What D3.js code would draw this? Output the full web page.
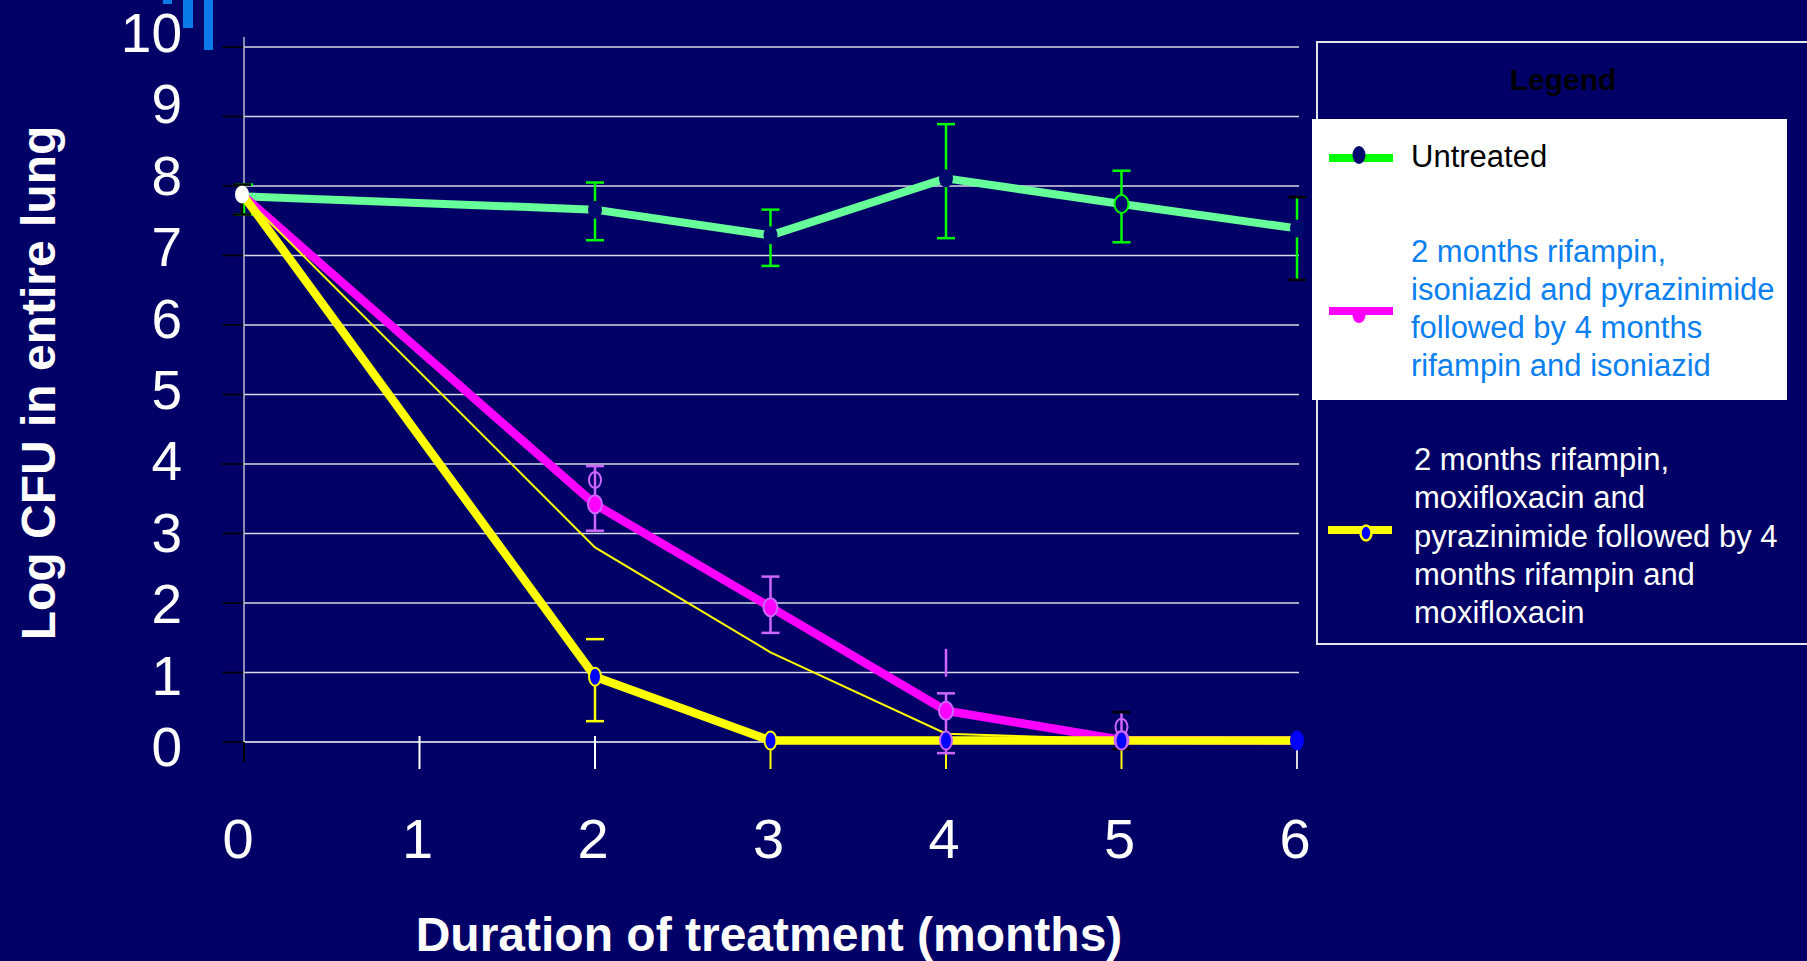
<!DOCTYPE html>
<html><head><meta charset="utf-8">
<script src="https://cdn.jsdelivr.net/npm/d3@7"></script>
<style>html,body{margin:0;padding:0;background:#000066;overflow:hidden}</style>
</head><body><svg id="c" width="1807" height="961"></svg>
<script>
// ---- data ----
const months = [0, 2, 3, 4, 5, 6];
const xTicks = [0, 1, 2, 3, 4, 5, 6];
const yTicks = [0, 1, 2, 3, 4, 5, 6, 7, 8, 9, 10];
const untreated   = [7.85, 7.66, 7.29, 8.11, 7.74, 7.39];
const untreatedLo = [7.59, 7.22, 6.85, 7.25, 7.19, 6.65];
const untreatedHi = [8.02, 8.05, 7.66, 8.89, 8.22, 7.84];
const rhz   = [7.85, 3.42, 1.94, 0.45, 0.03, 0.02];
const rhzLo = [null, 3.04, 1.57, -0.16, -0.10, null];
const rhzHi = [null, 3.97, 2.38, 0.70, 0.43, null];
const rhzOpen = [null, 3.77, null, null, 0.22, null];
const rhzStrayLo = [null, null, null, 0.94, null, null];
const rhzStrayHi = [null, null, null, 1.34, null, null];
const rmz   = [7.85, 0.94, 0.02, 0.02, 0.02, 0.02];
const rmzLo = [null, 0.30, null, null, null, null];
const rmzHi = [null, 1.48, null, null, null, null];
const thinLine = [7.85, 2.80, 1.29, 0.12, 0.04, 0.02];
const yTitle = "Log CFU in entire lung";
const xTitle = "Duration of treatment (months)";
const legendTitle = "Legend";
const legendUntreated = ["Untreated"];
const legendRHZ = ["2 months rifampin,", "isoniazid and pyrazinimide", "followed by 4 months", "rifampin and isoniazid"];
const legendRMZ = ["2 months rifampin,", "moxifloxacin and", "pyrazinimide followed by 4", "months rifampin and", "moxifloxacin"];

// ---- styles ----
const BG = "#000066";
const FONT = "'Liberation Sans', Arial, sans-serif";
const svg = d3.select("#c");
svg.append("rect").attr("width", 1807).attr("height", 961).attr("fill", BG);

const x = d3.scaleLinear().domain([0, 6]).range([244, 1297]);
const y = d3.scaleLinear().domain([0, 10]).range([742, 47]);
const yLab = d3.scaleLinear().domain([0, 10]).range([766, 52]);

// decorative template bars
[[163, 0, 9, 4], [183, 0, 10, 28], [204, 0, 9, 50]].forEach(d =>
  svg.append("rect").attr("x", d[0]).attr("y", d[1]).attr("width", d[2]).attr("height", d[3]).attr("fill", "#0a7ae8"));

// gridlines
svg.append("g").selectAll("line").data(yTicks.filter(v => v > 0)).join("line")
  .attr("x1", x(0)).attr("x2", x(6) + 2).attr("y1", d => y(d)).attr("y2", d => y(d))
  .attr("stroke", "#d8d8e6").attr("stroke-width", 1.5);
// y axis ticks (black)
svg.append("g").selectAll("line").data(yTicks).join("line")
  .attr("x1", 222).attr("x2", x(0)).attr("y1", d => y(d)).attr("y2", d => y(d))
  .attr("stroke", "#000").attr("stroke-width", 1.5);
// y axis line
svg.append("line").attr("x1", x(0)).attr("x2", x(0)).attr("y1", 37).attr("y2", y(0))
  .attr("stroke", "#b8b8cc").attr("stroke-width", 1.5);
// x axis line
svg.append("line").attr("x1", x(0)).attr("x2", x(6)).attr("y1", y(0)).attr("y2", y(0))
  .attr("stroke", "#ffffff").attr("stroke-width", 1.5);
const tickColor = ["#000", "#fff", "#fff", "#ffff00", "#ffff00", "#ffff00", "#dcdcdc"];
svg.append("g").selectAll("line").data(xTicks).join("line")
  .attr("x1", d => x(d)).attr("x2", d => x(d))
  .attr("y1", (d, i) => i === 0 ? y(0) : y(0) - 6).attr("y2", (d, i) => i === 0 ? 762 : 769)
  .attr("stroke", (d, i) => tickColor[i]).attr("stroke-width", 2);

// tick labels
svg.append("g").selectAll("text").data(yTicks).join("text")
  .attr("x", 182).attr("y", d => yLab(d)).attr("text-anchor", "end")
  .attr("font-family", FONT).attr("font-size", 55).attr("fill", "#fff").text(d => d);
svg.append("g").selectAll("text").data(xTicks).join("text")
  .attr("x", (d, i) => i === 0 ? x(d) - 6 : x(d) - 2).attr("y", 858).attr("text-anchor", "middle")
  .attr("font-family", FONT).attr("font-size", 56).attr("fill", "#fff").text(d => d);

// axis titles
svg.append("text").attr("x", 769).attr("y", 951).attr("text-anchor", "middle")
  .attr("font-family", FONT).attr("font-weight", "bold").attr("font-size", 48).attr("fill", "#fff").text(xTitle);
svg.append("text").attr("transform", "translate(55,383) rotate(-90)").attr("text-anchor", "middle")
  .attr("font-family", FONT).attr("font-weight", "bold").attr("font-size", 48).attr("fill", "#fff").text(yTitle);

// helpers
const line = d3.line().defined(d => d[1] != null).x(d => x(d[0])).y(d => y(d[1]));
function pts(vals) { return months.map((m, i) => [m, vals[i]]); }
function errBars(vals, lo, hi, color, capColorFn, opts = {}) {
  const g = svg.append("g");
  months.forEach((m, i) => {
    if (lo[i] == null && hi[i] == null) return;
    const a = lo[i] != null ? lo[i] : vals[i];
    const b = (hi[i] != null && !opts.floatHi) ? hi[i] : vals[i];
    g.append("line").attr("x1", x(m)).attr("x2", x(m)).attr("y1", y(a)).attr("y2", y(b))
      .attr("stroke", color).attr("stroke-width", 2.5);
    if (opts.noCaps) return;
    [lo[i], hi[i]].forEach(v => {
      if (v == null) return;
      g.append("line").attr("x1", x(m) - 9).attr("x2", x(m) + 9).attr("y1", y(v)).attr("y2", y(v))
        .attr("stroke", capColorFn ? capColorFn(i) : color).attr("stroke-width", 2.5);
    });
  });
}

// error bars
errBars(untreated, untreatedLo, untreatedHi, "#00ff00", i => i === 5 ? "#000" : "#00ff00");
errBars(rhz, rhzLo, rhzHi, "#cc66ff", i => i === 4 ? "#000" : "#cc66ff");
errBars(rhzStrayLo, rhzStrayLo, rhzStrayHi, "#cc66ff", null, { noCaps: true });
errBars(rmz, rmzLo, rmzHi, "#ffff00", null, { floatHi: true });

// lines
svg.append("path").datum(pts(untreated)).attr("d", line).attr("fill", "none")
  .attr("stroke", "#66ff99").attr("stroke-width", 8).attr("stroke-linejoin", "round");
svg.append("path").datum(pts(rhz)).attr("d", line).attr("fill", "none")
  .attr("stroke", "#ff00ff").attr("stroke-width", 8.5).attr("stroke-linejoin", "round");
svg.append("path").datum(pts(thinLine)).attr("d", line).attr("fill", "none")
  .attr("stroke", "#ffff00").attr("stroke-width", 2);
svg.append("path").datum(pts(rmz)).attr("d", line).attr("fill", "none")
  .attr("stroke", "#ffff00").attr("stroke-width", 8.5).attr("stroke-linejoin", "round");

// markers
svg.append("g").selectAll("ellipse").data(pts(untreated).slice(1)).join("ellipse")
  .attr("cx", d => x(d[0])).attr("cy", d => y(d[1])).attr("rx", 7).attr("ry", 9)
  .attr("fill", "#000a6e").attr("stroke", (d, i) => i === 3 ? "#00ff00" : "none").attr("stroke-width", 2);
svg.append("g").selectAll("ellipse").data(pts(rhz).slice(1, 5)).join("ellipse")
  .attr("cx", d => x(d[0])).attr("cy", d => y(d[1])).attr("rx", 7).attr("ry", 9)
  .attr("fill", "#ff00ff").attr("stroke", "#cc66ff").attr("stroke-width", 2);
svg.append("g").selectAll("ellipse").data(pts(rhzOpen).filter(d => d[1] != null)).join("ellipse")
  .attr("cx", d => x(d[0])).attr("cy", d => y(d[1])).attr("rx", 6).attr("ry", 8)
  .attr("fill", "none").attr("stroke", "#cc66ff").attr("stroke-width", 2);
svg.append("g").selectAll("ellipse").data(pts(rmz).slice(1)).join("ellipse")
  .attr("cx", d => x(d[0])).attr("cy", d => y(d[1])).attr("rx", 6).attr("ry", 9)
  .attr("fill", "#0000ff").attr("stroke", (d, i) => (i === 2 || i === 3) ? "#cc66ff" : (i === 4 ? "#0000ff" : "#ffff00")).attr("stroke-width", 2);
// baseline point (month 0)
const b0 = untreated[0];
svg.append("line").attr("x1", x(0) - 2).attr("x2", x(0) - 2).attr("y1", y(untreatedLo[0])).attr("y2", y(untreatedHi[0]))
  .attr("stroke", "#000").attr("stroke-width", 2.5);
[untreatedLo[0], untreatedHi[0]].forEach(v => svg.append("line").attr("x1", x(0) - 11).attr("x2", x(0) + 7)
  .attr("y1", y(v)).attr("y2", y(v)).attr("stroke", "#000").attr("stroke-width", 2.5));
svg.append("ellipse").attr("cx", x(0) - 2).attr("cy", y(b0) - 2).attr("rx", 7).attr("ry", 9).attr("fill", "#fff");

// ---- legend ----
const lg = svg.append("g");
lg.append("rect").attr("x", 1317).attr("y", 42).attr("width", 520).attr("height", 602)
  .attr("fill", "none").attr("stroke", "#e4e4ec").attr("stroke-width", 2);
lg.append("text").attr("x", 1563).attr("y", 90).attr("text-anchor", "middle")
  .attr("font-family", FONT).attr("font-weight", "bold").attr("font-size", 30).attr("fill", "#000").text(legendTitle);
lg.append("rect").attr("x", 1312).attr("y", 119).attr("width", 475).attr("height", 281).attr("fill", "#fff");
// untreated
lg.append("line").attr("x1", 1329).attr("x2", 1393).attr("y1", 158).attr("y2", 158).attr("stroke", "#00ff00").attr("stroke-width", 8);
lg.append("ellipse").attr("cx", 1359).attr("cy", 155).attr("rx", 6.5).attr("ry", 9).attr("fill", "#000a6e");
lg.append("text").attr("x", 1411).attr("y", 167).attr("font-family", FONT).attr("font-size", 31).attr("fill", "#000").text(legendUntreated[0]);
// rhz
lg.append("line").attr("x1", 1329).attr("x2", 1393).attr("y1", 311).attr("y2", 311).attr("stroke", "#ff00ff").attr("stroke-width", 8);
lg.append("ellipse").attr("cx", 1359).attr("cy", 315).attr("rx", 6.5).attr("ry", 8).attr("fill", "#ff00ff");
lg.append("g").selectAll("text").data(legendRHZ).join("text")
  .attr("x", 1411).attr("y", (d, i) => 262 + i * 38).attr("font-family", FONT).attr("font-size", 31)
  .attr("fill", "#0a80f0").text(d => d);
// rmz
lg.append("line").attr("x1", 1328).attr("x2", 1392).attr("y1", 530).attr("y2", 530).attr("stroke", "#ffff00").attr("stroke-width", 8);
lg.append("ellipse").attr("cx", 1366).attr("cy", 533).attr("rx", 5.5).attr("ry", 7.5).attr("fill", "#0000ff").attr("stroke", "#ffff00").attr("stroke-width", 2.5);
lg.append("g").selectAll("text").data(legendRMZ).join("text")
  .attr("x", 1414).attr("y", (d, i) => 470 + i * 38.3).attr("font-family", FONT).attr("font-size", 31)
  .attr("fill", "#fff").text(d => d);
</script></body></html>
